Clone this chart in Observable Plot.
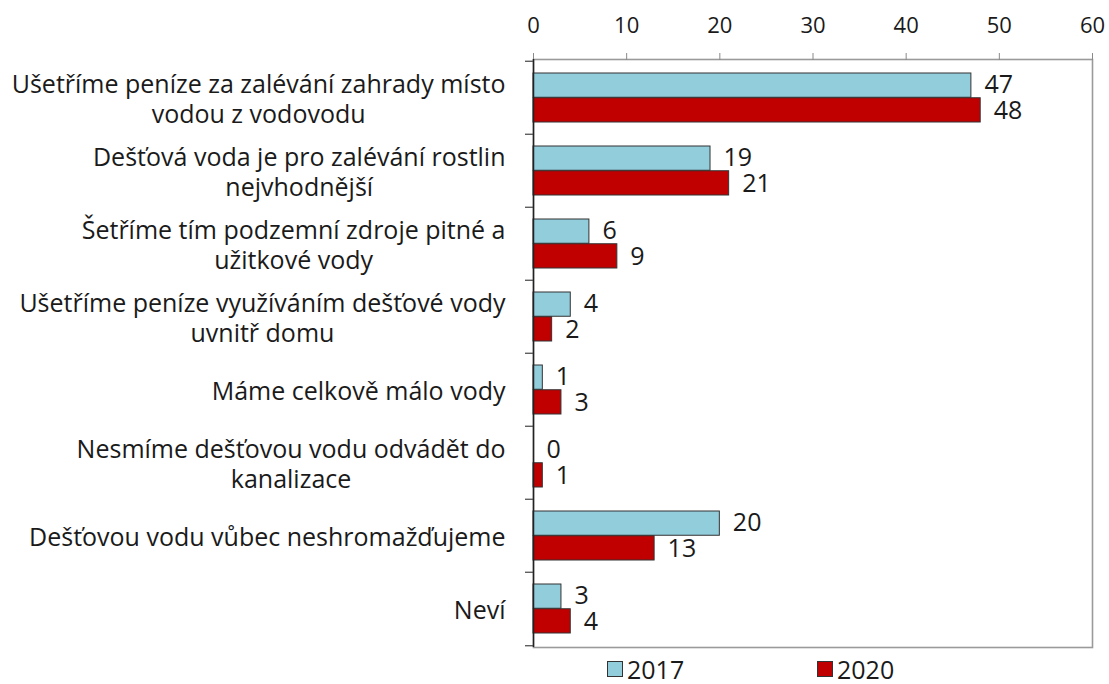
<!DOCTYPE html>
<html>
<head>
<meta charset="utf-8">
<script src="https://cdn.jsdelivr.net/npm/d3@7"></script>
<script src="https://cdn.jsdelivr.net/npm/@observablehq/plot@0.6"></script>
<style>
  html, body { margin: 0; padding: 0; background: #fff; }
  #wrap { position: relative; width: 1109px; height: 684px; font-family: "Open Sans", sans-serif; color: #1a1a1a; }
  .leg { position: absolute; top: 655px; height: 28px; line-height: 28px; display: flex; align-items: center; font-size: 25px; white-space: nowrap; }
  .sw { width: 14px; height: 14px; border: 1px solid #333; margin-right: 4px; }
</style>
</head>
<body>
<div id="wrap"></div>
<script>
const categories = [
  "Ušetříme peníze za zalévání zahrady místo\nvodou z vodovodu",
  "Dešťová voda je pro zalévání rostlin\nnejvhodnější",
  "Šetříme tím podzemní zdroje pitné a\nužitkové vody",
  "Ušetříme peníze využíváním dešťové vody\nuvnitř domu",
  "Máme celkově málo vody",
  "Nesmíme dešťovou vodu odvádět do\nkanalizace",
  "Dešťovou vodu vůbec neshromažďujeme",
  "Neví"
];
const v2017 = [47, 19, 6, 4, 1, 0, 20, 3];
const v2020 = [48, 21, 9, 2, 3, 1, 13, 4];
const xTicks = [0, 10, 20, 30, 40, 50, 60];
const seriesNames = ["2017", "2020"];
const seriesColors = ["#92CDDC", "#C00000"];

const FONT = '"Open Sans", sans-serif';
const catSize = 25;
const ctx = document.createElement("canvas").getContext("2d");
ctx.font = `${catSize}px ${FONT}`;
const labelRight = 28; // gap between label block and axis (px)

const d17 = categories.map((c, i) => ({cat: c, v: v2017[i]}));
const d20 = categories.map((c, i) => ({cat: c, v: v2020[i]}));

const H = 656, mTop = 59, mBottom = 9;
const step = (H - mTop - mBottom) / categories.length;
const half = step / 2;
const pad = 12;

const labelMarks = categories.map(c => {
  const w = Math.max(...c.split("\n").map(l => ctx.measureText(l).width));
  return Plot.text([c], {
    x: () => 0, y: d => d, text: d => d,
    textAnchor: "middle", lineHeight: 1.2,
    dx: -labelRight - w / 2,
    fontSize: catSize, fill: "#1a1a1a"
  });
});

const chart = Plot.plot({
  width: 1109,
  height: H,
  marginLeft: 533,
  marginRight: 17,
  marginTop: mTop,
  marginBottom: mBottom,
  style: {fontFamily: FONT, color: "#1a1a1a", background: "#fff", overflow: "visible"},
  x: {domain: [0, 60], axis: null},
  y: {domain: categories, padding: 0, axis: null},
  marks: [
    Plot.frame({stroke: "#9a9a9a", strokeWidth: 1.6}),
    Plot.axisX({anchor: "top", ticks: xTicks, tickSize: 7, tickPadding: 20, label: null,
      stroke: "#8a8a8a", fill: "#1a1a1a", fontSize: 22, tickFormat: d => String(d)}),
    Plot.barX(d17, {x: "v", y: "cat", fill: seriesColors[0], stroke: "#333", strokeWidth: 1,
      insetTop: pad, insetBottom: half}),
    Plot.barX(d20, {x: "v", y: "cat", fill: seriesColors[1], stroke: "#333", strokeWidth: 1,
      insetTop: half, insetBottom: pad}),
    Plot.ruleX([0], {stroke: "#222", strokeWidth: 1.5}),
    Plot.ruleY(categories, {y: d => d, x1: 0, x2: 0, insetLeft: -8, dy: -half, stroke: "#444", strokeWidth: 1.2}),
    Plot.ruleY([categories[categories.length - 1]], {y: d => d, x1: 0, x2: 0, insetLeft: -8, dy: half, stroke: "#444", strokeWidth: 1.2}),
    Plot.text(d17, {x: "v", y: "cat", text: d => String(d.v), textAnchor: "start", dx: 13, dy: -half / 2 + pad / 2 - 0.25,
      fontSize: 25, fill: "#1a1a1a"}),
    Plot.text(d20, {x: "v", y: "cat", text: d => String(d.v), textAnchor: "start", dx: 13, dy: half / 2 - pad / 2 + 0.25,
      fontSize: 25, fill: "#1a1a1a"}),
    ...labelMarks
  ]
});

const wrap = document.getElementById("wrap");
wrap.appendChild(chart);
const legX = [607, 817];
seriesNames.forEach((n, i) => {
  const el = document.createElement("div");
  el.className = "leg";
  el.style.left = legX[i] + "px";
  el.innerHTML = `<div class="sw" style="background:${seriesColors[i]}"></div><span>${n}</span>`;
  wrap.appendChild(el);
});
</script>
</body>
</html>
